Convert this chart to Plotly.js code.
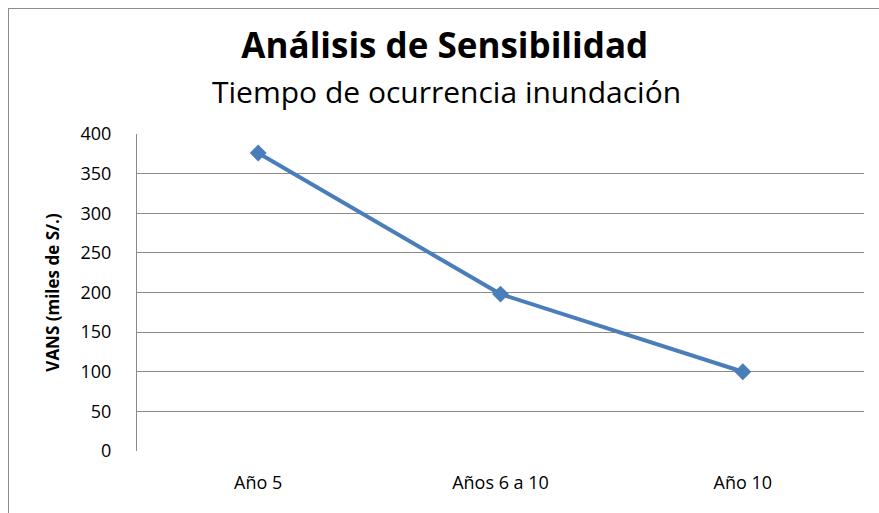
<!DOCTYPE html>
<html>
<head>
<meta charset="utf-8">
<script src="https://cdn.plot.ly/plotly-3.0.1.min.js"></script>
<style>
  html, body { margin: 0; padding: 0; background: #fff; overflow: hidden; }
  #chart { width: 879px; height: 513px; position: absolute; left: 0; top: 0; }
  #frame { position: absolute; left: 8px; top: 8px; width: 900px; height: 600px;
           border: 1.5px solid #8c8c8c; pointer-events: none; }
</style>
</head>
<body>
<div id="chart"></div>
<div id="frame"></div>
<script>
const categories = ["Año 5", "Años 6 a 10", "Año 10"];
const vans = [376, 198, 100];
const yTicks = [0, 50, 100, 150, 200, 250, 300, 350, 400];

const font = "Open Sans, Noto Sans, sans-serif";

const trace = {
  type: "scatter",
  mode: "lines+markers",
  x: categories,
  y: vans,
  line: { color: "#4A7EBB", width: 4 },
  marker: { symbol: "diamond", size: 13, color: "#4A7EBB" },
  hoverinfo: "x+y"
};

const layout = {
  width: 879,
  height: 513,
  margin: { l: 137, r: 15, t: 134, b: 62 },
  paper_bgcolor: "#fff",
  plot_bgcolor: "#fff",
  showlegend: false,
  font: { family: font, color: "#000", size: 13 },
  title: {
    text: "<b>Análisis de Sensibilidad</b>",
    font: { family: font, size: 35, color: "#000" },
    x: 0.506, xanchor: "center",
    y: 1 - 46 / 513, yanchor: "middle", yref: "container"
  },
  annotations: [{
    text: "Tiempo de ocurrencia inundación",
    xref: "paper", yref: "paper",
    x: 0.4264, y: 1.134,
    xanchor: "center", yanchor: "middle",
    showarrow: false,
    font: { family: font, size: 30, color: "#000" }
  }],
  xaxis: {
    type: "category",
    range: [-0.5, 2.5],
    showgrid: false,
    zeroline: false,
    showline: false,
    ticks: "",
    ticklabelstandoff: 19,
    tickfont: { family: font, size: 18, color: "#000" },
    fixedrange: true
  },
  yaxis: {
    range: [0, 400],
    tickvals: yTicks,
    ticktext: yTicks.map(String),
    showgrid: true,
    gridcolor: "#8a8a8a",
    gridwidth: 1,
    zeroline: false,
    showline: true,
    linecolor: "#8a8a8a",
    linewidth: 1,
    ticks: "",
    ticklabelstandoff: 21,
    tickfont: { family: font, size: 18, color: "#000" },
    title: {
      text: "<b>VANS (miles de S/.)</b>",
      font: { family: font, size: 17, color: "#000" },
      standoff: 16
    },
    fixedrange: true
  }
};

Plotly.newPlot("chart", [trace], layout, { displayModeBar: false, staticPlot: true });
</script>
</body>
</html>
